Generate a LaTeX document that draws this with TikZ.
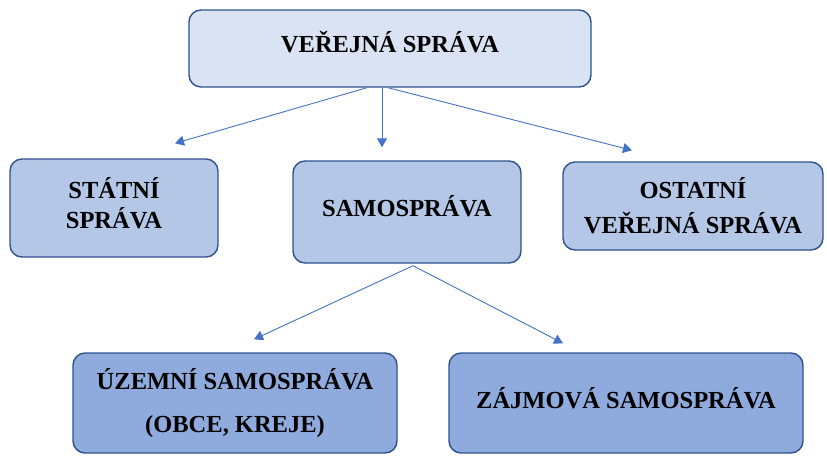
\documentclass[tikz,border=0pt]{standalone}
\usepackage{fontspec}
\setmainfont{Liberation Serif}
\usetikzlibrary{arrows.meta,positioning}
\definecolor{boxline}{RGB}{47,82,143}
\definecolor{toptone}{RGB}{218,227,243}
\definecolor{midtone}{RGB}{180,199,231}
\definecolor{lowtone}{RGB}{143,170,220}
\definecolor{arrowblue}{RGB}{68,114,196}

\begin{document}
\begin{tikzpicture}[
            x=1pt, y=-1pt,
            every node/.style={text centered, font=\bfseries\fontsize{24.5}{30}\selectfont},
            box/.style={rectangle, rounded corners=12pt, draw=boxline, line width=1.4pt, inner sep=0pt, align=center},
            topbox/.style={box, fill=toptone},
            midbox/.style={box, fill=midtone},
            lowbox/.style={box, fill=lowtone, minimum height=100pt},
            arrowline/.style={draw=arrowblue, line width=0.9pt, -{Triangle[width=10pt,length=9pt]}}
        ]
            \useasboundingbox (0,0) rectangle (827,456);

            % Nodes
            \node (verejna) [topbox, minimum width=402pt, minimum height=77pt, text depth=14pt] at (390,48.5) {VEŘEJNÁ SPRÁVA};
            \node (statni) [midbox, minimum width=208pt, minimum height=98pt, text depth=10pt] at (114,208) {STÁTNÍ\\SPRÁVA};
            \node (samo) [midbox, minimum width=228pt, minimum height=102pt, text depth=12pt] at (407,212) {SAMOSPRÁVA};
            \node (ostatni) [midbox, minimum width=260pt, minimum height=88pt] at (693,206) {OSTATNÍ\\[5pt]VEŘEJNÁ SPRÁVA};
            \node (uzemni) [lowbox, minimum width=324pt] at (235,403) {ÚZEMNÍ SAMOSPRÁVA\\[13pt](OBCE, KREJE)};
            \node (zajmova) [lowbox, minimum width=354pt, text depth=10pt] at (626,403) {ZÁJMOVÁ SAMOSPRÁVA};

            % Arrows
            \draw [arrowline] ([xshift=-23pt]verejna.south) -- ([xshift=61pt,yshift=15pt]statni.north);
            \draw [arrowline] ([xshift=-8pt]verejna.south) -- ([xshift=-25pt,yshift=13pt]samo.north);
            \draw [arrowline] ([xshift=-2pt]verejna.south) -- ([xshift=-61pt,yshift=11pt]ostatni.north);
            \draw [arrowline] ([xshift=6pt,yshift=-2pt]samo.south) -- ([xshift=19pt,yshift=13pt]uzemni.north);
            \draw [arrowline] ([xshift=6pt,yshift=-2pt]samo.south) -- ([xshift=-63pt,yshift=9pt]zajmova.north);
        \end{tikzpicture}
\end{document}
